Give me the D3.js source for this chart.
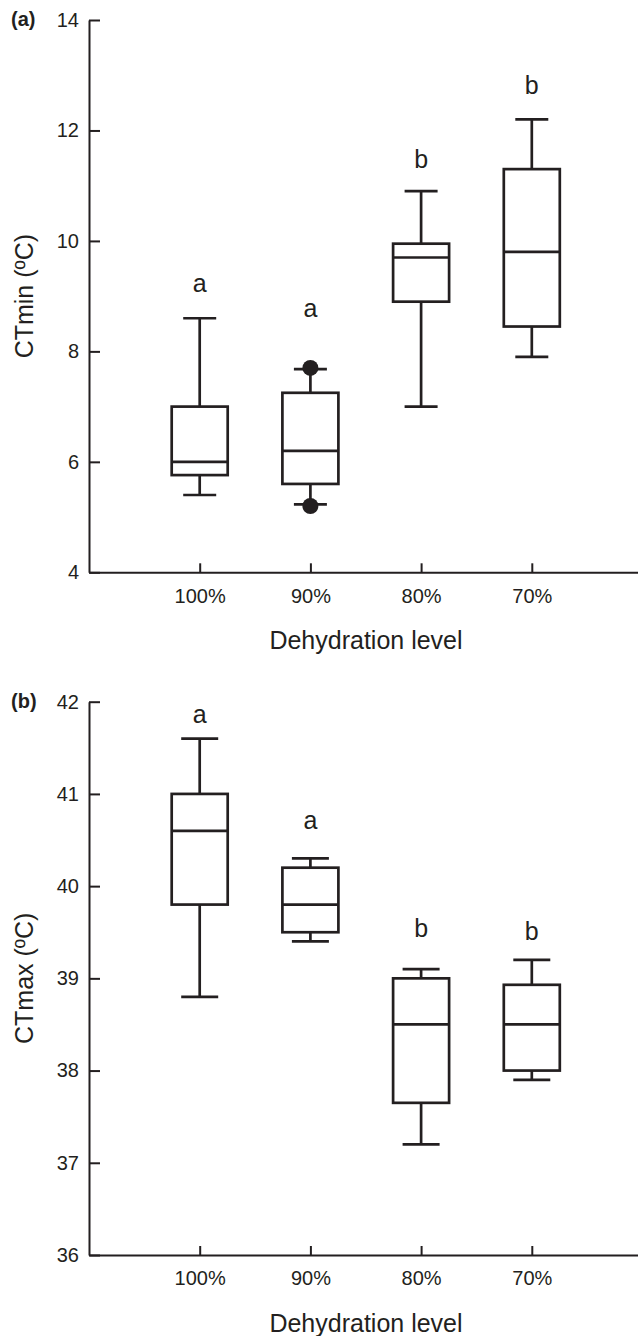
<!DOCTYPE html>
<html>
<head>
<meta charset="utf-8">
<script src="https://cdn.jsdelivr.net/npm/d3@7/dist/d3.min.js"></script>
<style>
  html, body { margin: 0; padding: 0; background: #fff; }
  svg { display: block; }
  text { font-family: "Liberation Sans", Arial, Helvetica, sans-serif; fill: #231f20; }
</style>
</head>
<body>
<svg id="chart" width="638" height="1336"></svg>
<script>
// ---------------- DATA ----------------
const categories = ["100%", "90%", "80%", "70%"];

// Panel (a): CTmin
const ctminTicks = [4, 6, 8, 10, 12, 14];
const ctminLow = [5.4, 5.23, 7.0, 7.9];
const ctminQ1 = [5.76, 5.6, 8.9, 8.45];
const ctminMedian = [6.0, 6.2, 9.7, 9.8];
const ctminQ3 = [7.0, 7.25, 9.95, 11.3];
const ctminHigh = [8.6, 7.68, 10.9, 12.2];
const ctminOutliers = [[], [7.7, 5.2], [], []];
const ctminLetters = ["a", "a", "b", "b"];
const ctminLetterAt = [9.08, 8.62, 11.32, 12.66];

// Panel (b): CTmax
const ctmaxTicks = [36, 37, 38, 39, 40, 41, 42];
const ctmaxLow = [38.8, 39.4, 37.2, 37.9];
const ctmaxQ1 = [39.8, 39.5, 37.65, 38.0];
const ctmaxMedian = [40.6, 39.8, 38.5, 38.5];
const ctmaxQ3 = [41.0, 40.2, 39.0, 38.93];
const ctmaxHigh = [41.6, 40.3, 39.1, 39.2];
const ctmaxOutliers = [[], [], [], []];
const ctmaxLetters = ["a", "a", "b", "b"];
const ctmaxLetterAt = [41.77, 40.62, 39.45, 39.42];

// ---------------- DRAWING ----------------
const INK = "#231f20";
const svg = d3.select("#chart");

const x = d3.scalePoint().domain(categories).range([89, 642.5]).padding(1);

function panel(opts) {
  const { top, bottom, ticks, low, q1, med, q3, high, outliers, letters, letterAt,
          yTitle, tag, tagY, capW } = opts;
  const y = d3.scaleLinear().domain([ticks[0], ticks[ticks.length - 1]]).range([bottom, top]);
  const g = svg.append("g");

  const boxW = 56;
  const data = categories.map((c, i) => ({
    c, low: low[i], q1: q1[i], med: med[i], q3: q3[i], high: high[i],
    out: outliers[i], letter: letters[i], la: letterAt[i]
  }));
  const bg = g.selectAll("g.box").data(data).join("g").attr("class", "box");
  const sw = 2.7;
  // whiskers
  bg.append("line")
    .attr("x1", d => x(d.c)).attr("x2", d => x(d.c))
    .attr("y1", d => y(d.q3)).attr("y2", d => y(d.high))
    .attr("stroke", INK).attr("stroke-width", sw);
  bg.append("line")
    .attr("x1", d => x(d.c)).attr("x2", d => x(d.c))
    .attr("y1", d => y(d.q1)).attr("y2", d => y(d.low))
    .attr("stroke", INK).attr("stroke-width", sw);
  // caps
  bg.append("line")
    .attr("x1", d => x(d.c) - capW / 2).attr("x2", d => x(d.c) + capW / 2)
    .attr("y1", d => y(d.high)).attr("y2", d => y(d.high))
    .attr("stroke", INK).attr("stroke-width", sw);
  bg.append("line")
    .attr("x1", d => x(d.c) - capW / 2).attr("x2", d => x(d.c) + capW / 2)
    .attr("y1", d => y(d.low)).attr("y2", d => y(d.low))
    .attr("stroke", INK).attr("stroke-width", sw);
  // box
  bg.append("rect")
    .attr("x", d => x(d.c) - boxW / 2).attr("width", boxW)
    .attr("y", d => y(d.q3)).attr("height", d => y(d.q1) - y(d.q3))
    .attr("fill", "#fff").attr("stroke", INK).attr("stroke-width", sw);
  // median
  bg.append("line")
    .attr("x1", d => x(d.c) - boxW / 2).attr("x2", d => x(d.c) + boxW / 2)
    .attr("y1", d => y(d.med)).attr("y2", d => y(d.med))
    .attr("stroke", INK).attr("stroke-width", sw);
  // outliers
  bg.selectAll("circle").data(d => d.out.map(v => ({ c: d.c, v }))).join("circle")
    .attr("cx", d => x(d.c)).attr("cy", d => y(d.v)).attr("r", 8).attr("fill", INK);
  // letters
  bg.append("text")
    .attr("x", d => x(d.c)).attr("y", d => y(d.la))
    .attr("text-anchor", "middle").attr("font-size", 25)
    .text(d => d.letter);

  // y axis
  const ya = g.append("g").attr("transform", "translate(89,0)")
    .call(d3.axisLeft(y).tickValues(ticks).tickFormat(d3.format("d"))
      .tickSizeInner(-11).tickSizeOuter(0).tickPadding(10));
  ya.select(".domain").attr("stroke", INK).attr("stroke-width", 2);
  ya.selectAll(".tick line").attr("stroke", INK).attr("stroke-width", 2);
  ya.selectAll(".tick text").attr("font-size", 20).attr("fill", INK)
    .attr("font-family", "'Liberation Sans', Arial, Helvetica, sans-serif");

  // x axis
  const xa = g.append("g").attr("transform", `translate(0,${bottom})`)
    .call(d3.axisBottom(x).tickSizeInner(-9).tickSizeOuter(0).tickPadding(0));
  xa.select(".domain").attr("stroke", INK).attr("stroke-width", 2);
  xa.selectAll(".tick line").attr("stroke", INK).attr("stroke-width", 2);
  xa.selectAll(".tick text").attr("font-size", 20).attr("fill", INK)
    .attr("dy", null).attr("y", 30.4)
    .attr("font-family", "'Liberation Sans', Arial, Helvetica, sans-serif");

  // axis titles
  g.append("text").attr("x", 366).attr("y", bottom + 77)
    .attr("text-anchor", "middle").attr("font-size", 25).text("Dehydration level");
  g.append("text")
    .attr("transform", `translate(33,${(top + bottom) / 2}) rotate(-90)`)
    .attr("text-anchor", "middle").attr("font-size", 25).text(yTitle);

  // panel tag
  g.append("text").attr("x", 11).attr("y", tagY)
    .attr("font-size", 20).attr("font-weight", "bold").text(tag);
}

panel({
  top: 20, bottom: 572.3, ticks: ctminTicks,
  low: ctminLow, q1: ctminQ1, med: ctminMedian, q3: ctminQ3, high: ctminHigh,
  outliers: ctminOutliers, letters: ctminLetters, letterAt: ctminLetterAt,
  yTitle: "CTmin (ºC)", tag: "(a)", tagY: 26, capW: 33
});

panel({
  top: 701.7, bottom: 1255, ticks: ctmaxTicks,
  low: ctmaxLow, q1: ctmaxQ1, med: ctmaxMedian, q3: ctmaxQ3, high: ctmaxHigh,
  outliers: ctmaxOutliers, letters: ctmaxLetters, letterAt: ctmaxLetterAt,
  yTitle: "CTmax (ºC)", tag: "(b)", tagY: 708, capW: 37
});
</script>
</body>
</html>
